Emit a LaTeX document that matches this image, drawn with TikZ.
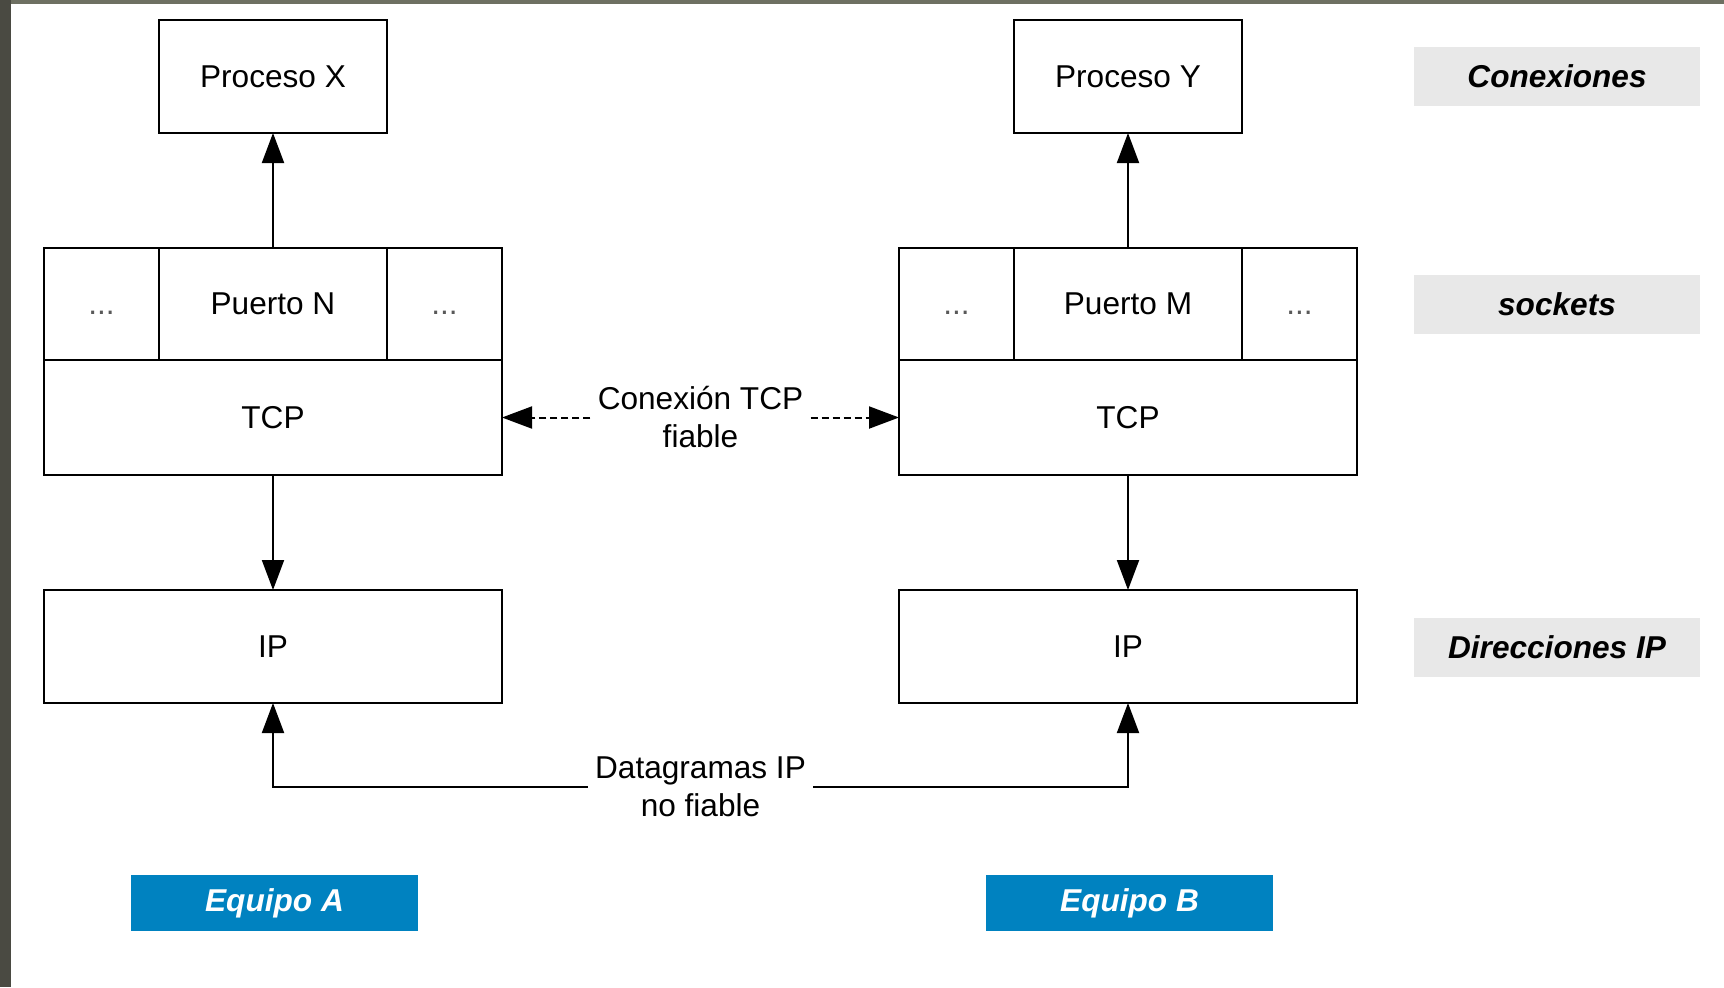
\documentclass[tikz,border=0pt]{standalone}
\usepackage{fontspec}
\setmainfont{Liberation Sans}
\usetikzlibrary{arrows.meta,positioning}

\definecolor{equipoblue}{RGB}{0,130,192}
\definecolor{tagGray}{RGB}{232,232,232}
\definecolor{frameLeft}{RGB}{74,74,66}
\definecolor{frameTop}{RGB}{110,112,98}

\begin{document}
\begin{tikzpicture}[
  x=0.5pt, y=-0.5pt,
  font=\fontsize{15.8}{19}\selectfont,
  >={Triangle[length=15pt,width=11pt]},
  layer/.style   ={draw,line width=1pt,outer sep=0pt,inner sep=0pt,align=center},
  procbox/.style ={layer,minimum width=114pt,minimum height=56.5pt},
  portbox/.style ={layer,minimum width=114pt,minimum height=56pt},
  dotsbox/.style ={layer,minimum width=57.5pt,minimum height=56pt,
                   text=black!65},
  tcpbox/.style  ={layer,minimum width=229pt,minimum height=57.5pt},
  ipbox/.style   ={layer,minimum width=229pt,minimum height=56.5pt},
  tag/.style     ={fill=tagGray,minimum width=143pt,minimum height=29.5pt,
                   inner sep=0pt,font=\fontsize{15.8}{19}\selectfont\bfseries\itshape},
  equipo/.style  ={fill=equipoblue,text=white,minimum width=143.5pt,
                   minimum height=28pt,inner sep=0pt,
                   font=\fontsize{15.8}{19}\selectfont\bfseries\itshape},
  conn/.style    ={->,line width=1pt},
  msg/.style     ={align=center,inner sep=3.5pt},
]

%% frame of the slide
\fill[frameLeft] (0,0) rectangle (1724,987);
\fill[frameTop] (11,0) rectangle (1724,4);
\fill[white] (11,4) rectangle (1724,987);

%% ============================================================
%%  Equipo A
%% ============================================================
\node[procbox] (procX) at (273,76.5) {Proceso X};
\node[portbox] (puertoN) at (273,304) {Puerto N};
\node[dotsbox,left=0pt of puertoN]  (dotsNl) {\vphantom{Puerto}...};
\node[dotsbox,right=0pt of puertoN] (dotsNr) {\vphantom{Puerto}...};
\node[tcpbox,below=0pt of puertoN] (tcpA) {TCP};
\node[ipbox] (ipA) at (273,646.5) {IP};

\draw[conn] (puertoN.north) -- (procX.south);
\draw[conn] (tcpA.south) -- (ipA.north);

%% ============================================================
%%  Equipo B
%% ============================================================
\node[procbox] (procY) at (1128,76.5) {Proceso Y};
\node[portbox] (puertoM) at (1128,304) {Puerto M};
\node[dotsbox,left=0pt of puertoM]  (dotsMl) {\vphantom{Puerto}...};
\node[dotsbox,right=0pt of puertoM] (dotsMr) {\vphantom{Puerto}...};
\node[tcpbox,below=0pt of puertoM] (tcpB) {TCP};
\node[ipbox] (ipB) at (1128,646.5) {IP};

\draw[conn] (puertoM.north) -- (procY.south);
\draw[conn] (tcpB.south) -- (ipB.north);

%% ============================================================
%%  Connections between both hosts
%% ============================================================
\node[msg] (conTCP) at (700.5,417.5) {Conexi\'on TCP\\fiable};
\draw[conn,dash pattern=on 3.5pt off 2pt] (conTCP.west) -- (tcpA.east);
\draw[conn,dash pattern=on 3.5pt off 2pt] (conTCP.east) -- (tcpB.west);

\node[msg] (dgIP) at (700.5,787) {Datagramas IP\\no fiable};
\draw[conn] (dgIP.west) -| (ipA.south);
\draw[conn] (dgIP.east) -| (ipB.south);

%% ============================================================
%%  Tags
%% ============================================================
\node[tag] (tagCon)  at (1557,76.5)  {Conexiones};
\node[tag] (tagSock) at (1557,304)   {sockets};
\node[tag] (tagIP)   at (1557,647)   {Direcciones IP};

\node[equipo] (eqA) at (274.5,903)  {Equipo A};
\node[equipo] (eqB) at (1129.5,903) {Equipo B};

\end{tikzpicture}
\end{document}
